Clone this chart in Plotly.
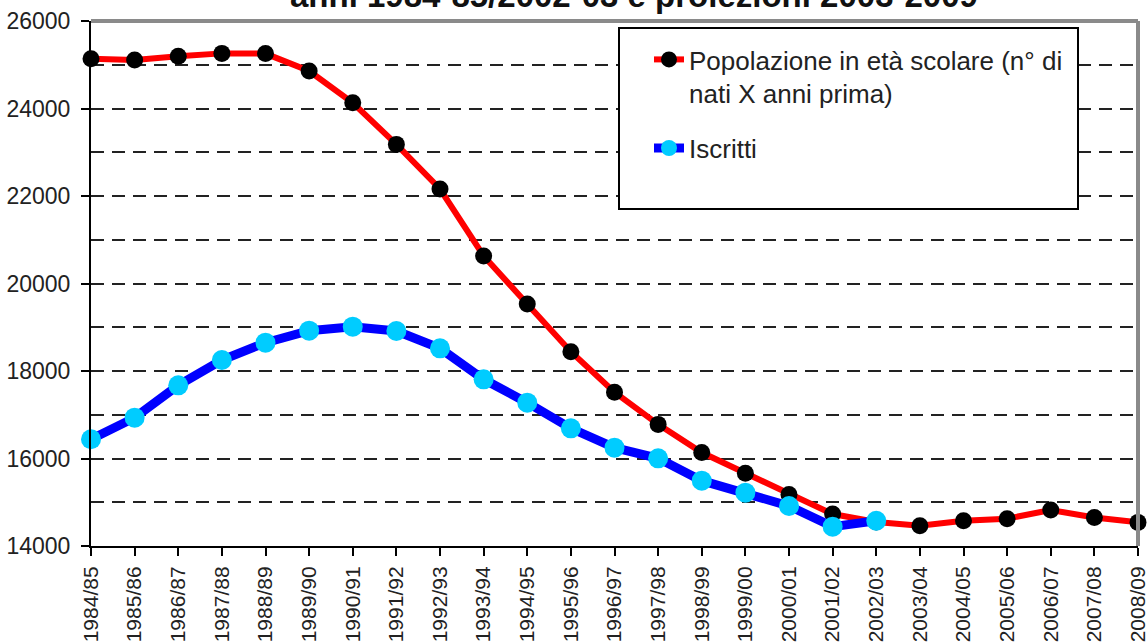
import plotly.graph_objects as go

categories = ["1984/85", "1985/86", "1986/87", "1987/88", "1988/89", "1989/90", "1990/91",
              "1991/92", "1992/93", "1993/94", "1994/95", "1995/96", "1996/97", "1997/98",
              "1998/99", "1999/00", "2000/01", "2001/02", "2002/03", "2003/04", "2004/05",
              "2005/06", "2006/07", "2007/08", "2008/09"]

popolazione = [25135, 25110, 25195, 25260, 25255, 24857, 24130, 23180, 22160, 20630,
               19531, 18440, 17515, 16780, 16135, 15665, 15175, 14730, 14550, 14465,
               14575, 14625, 14823, 14650, 14540]

iscritti = [16440, 16933, 17673, 18251, 18648, 18922, 19013, 18914, 18518, 17810,
            17276, 16690, 16247, 16004, 15493, 15219, 14914, 14442, 14577]

y_ticks = [14000, 16000, 18000, 20000, 22000, 24000, 26000]

title_text = "anni 1984-85/2002-03 e proiezioni 2003-2009"
name_pop = "Popolazione in età scolare (n° di<br>nati X anni prima)"
name_isc = "Iscritti"

FONT = "Liberation Sans, Arial, sans-serif"
W, H = 1147, 644
L, R, T, B = 91, 9, 21, 98
PW, PH = W - L - R, H - T - B

fig = go.Figure()
fig.add_trace(go.Scatter(
    x=categories, y=popolazione, name=name_pop, legendgroup="pop", mode="lines+markers",
    line=dict(color="#FF0000", width=6),
    marker=dict(color="#000000", size=17),
    cliponaxis=False,
))
fig.add_trace(go.Scatter(
    x=categories[:len(iscritti)], y=iscritti, name=name_isc, legendgroup="isc", mode="lines+markers",
    line=dict(color="#0000FF", width=9),
    marker=dict(color="#00CCFF", size=20),
    cliponaxis=False,
))

fig.update_layout(
    width=W, height=H,
    margin=dict(l=L, r=R, t=T, b=B, autoexpand=False),
    paper_bgcolor="white", plot_bgcolor="white",
    font=dict(family=FONT, color="#222222"),
    showlegend=True,
    legend=dict(
        x=(649 - L) / PW, y=(H - B - 36) / PH, xanchor="left", yanchor="top",
        bgcolor="rgba(0,0,0,0)", borderwidth=0,
        font=dict(size=26, color="#222222", family=FONT),
        tracegroupgap=18, valign="top",
    ),
    xaxis=dict(
        type="category", range=[0, len(categories) - 1],
        tickangle=-90, tickfont=dict(size=21, color="#222222"),
        showgrid=False, zeroline=False,
        showline=True, linecolor="#000000", linewidth=2,
        ticks="outside", ticklen=8, tickwidth=2, tickcolor="#000000",
        ticklabelstandoff=2, automargin=False,
    ),
    yaxis=dict(
        range=[14000, 26000], tickvals=y_ticks, tickformat="d",
        tickfont=dict(size=23, color="#222222"),
        showgrid=True, gridcolor="#222222", gridwidth=2, griddash="13px,8px",
        minor=dict(dtick=1000, showgrid=True, gridcolor="#222222", gridwidth=2, griddash="13px,8px"),
        zeroline=False,
        showline=True, linecolor="#000000", linewidth=2,
        ticks="outside", ticklen=8, tickwidth=2, tickcolor="#000000",
        ticklabelstandoff=6, automargin=False,
    ),
)

# grey top and right frame
fig.add_shape(type="line", xref="paper", yref="paper", x0=0, x1=1, y0=1, y1=1,
              line=dict(color="#8a8a8a", width=4), layer="above")
fig.add_shape(type="line", xref="paper", yref="paper", x0=1, x1=1, y0=0, y1=1,
              line=dict(color="#8a8a8a", width=4), layer="above")
# legend box
fig.add_shape(type="rect", xref="paper", yref="paper",
              x0=(619 - L) / PW, x1=(1078 - L) / PW,
              y0=(H - B - 209) / PH, y1=(H - B - 28) / PH,
              line=dict(color="#000000", width=2), fillcolor="white", layer="above")

fig.add_annotation(
    text="<b>" + title_text + "</b>", xref="paper", yref="paper",
    x=(634 - L) / PW, y=1 + 26 / PH, xanchor="center", yanchor="middle",
    showarrow=False, font=dict(size=33, color="#111111", family=FONT),
)

fig.write_html("out.html", config={"displayModeBar": False},
               post_script="document.body.style.margin='0';document.body.style.overflow='hidden';")
